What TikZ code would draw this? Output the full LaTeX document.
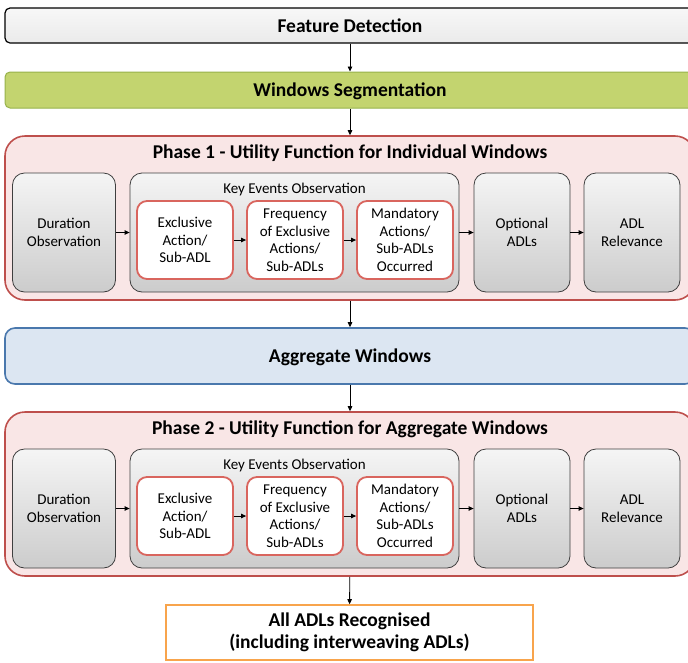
\documentclass[tikz,border=0pt]{standalone}
\usepackage{fontspec}
\setmainfont{Carlito}
\usetikzlibrary{arrows.meta}
\definecolor{grisbord}{HTML}{3F3F3F}
\definecolor{vertfond}{HTML}{C3D46F}
\definecolor{vertbord}{HTML}{97B24B}
\definecolor{rosefond}{HTML}{F9E6E6}
\definecolor{rougebord}{HTML}{BE4F4C}
\definecolor{rougeclair}{HTML}{D9655E}
\definecolor{bleufond}{HTML}{DCE6F2}
\definecolor{bleubord}{HTML}{4A78AD}
\definecolor{orangebord}{HTML}{F8A44C}
\tikzset{
  barre/.style={draw, rounded corners=5pt, minimum width=690pt, minimum height=#1,
    text depth=0pt, font=\bfseries\fontsize{19.5}{22}\selectfont},
  phase/.style={draw=rougebord, line width=1.6pt, fill=rosefond, rounded corners=20pt,
    minimum width=690pt, minimum height=164pt},
  titre/.style={font=\bfseries\fontsize{19.5}{22}\selectfont},
  boite/.style={draw=grisbord, line width=0.8pt, top color=gray!8, bottom color=gray!40,
    rounded corners=12pt, minimum width=#1, minimum height=119pt, align=center,
    font=\fontsize{15}{17.5}\selectfont},
  souseboite/.style={draw=rougeclair, line width=1.8pt, fill=white, rounded corners=10pt,
    minimum width=96pt, minimum height=78pt, align=center, inner sep=1pt,
    font=\fontsize{15}{17.5}\selectfont},
  fleche/.style={-{Triangle[length=5pt,width=4.5pt]}, line width=0.8pt, black}
}
\begin{document}
\begin{tikzpicture}[x=1pt,y=-1pt]
  \useasboundingbox (0,0) rectangle (688,662);
  % Étapes du haut
  \node[barre=35pt, draw=black, line width=1.2pt, top color=gray!6, bottom color=gray!16]
    (detection) at (350,25.5) {Feature Detection};
  \node[barre=36pt, draw=vertbord, line width=1pt, fill=vertfond]
    (segmentation) at (350,90) {Windows Segmentation};
  \node[barre=56pt, draw=bleubord, line width=1.6pt, fill=bleufond, rounded corners=10pt]
    (agregat) at (350,356) {Aggregate Windows};
  \node[draw=orangebord, line width=1.6pt, fill=white, minimum width=367pt, minimum height=55pt,
    align=center, font=\bfseries\fontsize{19.5}{22}\selectfont]
    (final) at (349.5,632.5) {All ADLs Recognised\\(including interweaving ADLs)};
  % Les deux phases
  \foreach \n/\dy/\quoi in {1/0/Individual Windows, 2/276/Aggregate Windows} {
    \begin{scope}[yshift=-\dy pt]
      \node[phase] (phase\n) at (350,218) {};
      \node[titre] (titre\n) at (350,153) {Phase \n\ - Utility Function for \quoi};
      \node[boite=103pt] (duree\n) at (64,232.5) {Duration\\Observation};
      \node[boite=329pt] (cle\n) at (294.5,232.5) {};
      \node[font=\fontsize{15}{17.5}\selectfont] (cletexte\n) at (294.5,189) {Key Events Observation};
      \node[souseboite] (exclusif\n) at (185,240) {Exclusive\\Action/\\Sub-ADL};
      \node[souseboite] (frequence\n) at (295,240) {Frequency\\of Exclusive\\Actions/\\Sub-ADLs};
      \node[souseboite] (obligatoire\n) at (405,240) {Mandatory\\Actions/\\Sub-ADLs\\Occurred};
      \node[boite=96pt] (optionnel\n) at (522,232.5) {Optional\\ADLs};
      \node[boite=96pt] (pertinence\n) at (632,232.5) {ADL\\Relevance};
      \draw[fleche] (duree\n) -- (cle\n);
      \draw[fleche] (exclusif\n) -- (frequence\n);
      \draw[fleche] (frequence\n) -- (obligatoire\n);
      \draw[fleche] (cle\n) -- (optionnel\n);
      \draw[fleche] (optionnel\n) -- (pertinence\n);
    \end{scope}
  }
  % Liaisons verticales
  \draw[fleche] (detection) -- (segmentation);
  \draw[fleche] (segmentation) -- (phase1);
  \draw[fleche] (phase1) -- (agregat);
  \draw[fleche] (agregat) -- (phase2);
  \draw[fleche] (phase2) -- (final);
\end{tikzpicture}
\end{document}
